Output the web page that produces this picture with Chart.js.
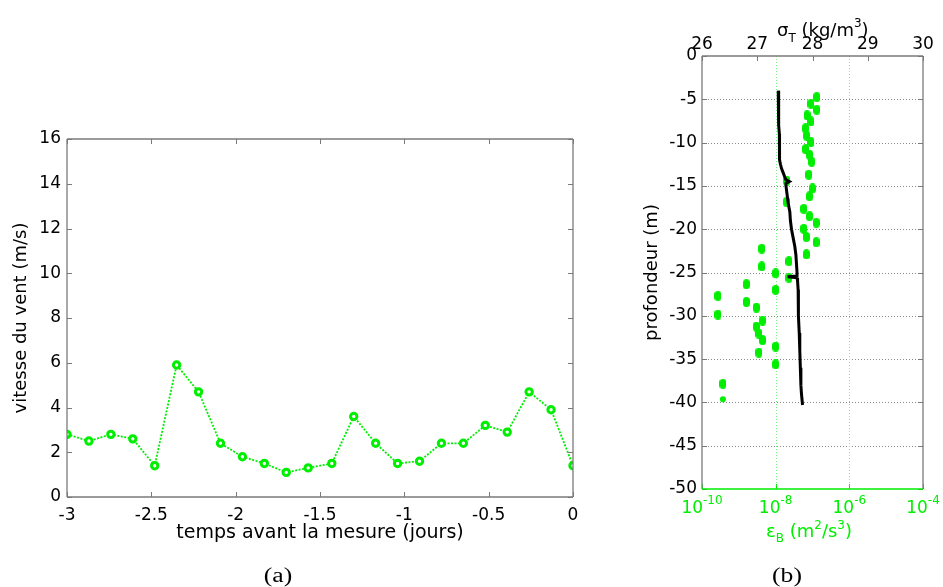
<!DOCTYPE html>
<html><head><meta charset="utf-8">
<script src="https://cdn.jsdelivr.net/npm/chart.js@4.4.0/dist/chart.umd.min.js"></script>
<style>
html,body{margin:0;padding:0;background:#fff;width:943px;height:587px;overflow:hidden;}
#ca{position:absolute;left:0;top:0;}
#cb{position:absolute;left:640px;top:0;}
.cap{position:absolute;width:60px;text-align:center;font-family:"Liberation Serif","Times New Roman",serif;font-size:20px;line-height:22px;color:#000;transform:scaleX(1.28);}
</style></head><body>
<canvas id="ca" width="640" height="587"></canvas>
<canvas id="cb" width="303" height="587"></canvas>
<div class="cap" style="left:248px;top:564px;">(a)</div>
<div class="cap" style="left:757px;top:564px;">(b)</div>
<script>
// ---------- data: panel (a) ----------
const windTime  = [-3, -2.87, -2.74, -2.61, -2.48, -2.35, -2.22, -2.09, -1.96, -1.83, -1.70, -1.57,
                   -1.43, -1.30, -1.17, -1.04, -0.91, -0.78, -0.65, -0.52, -0.39, -0.26, -0.13, 0];
const windSpeed = [2.8, 2.5, 2.8, 2.6, 1.4, 5.9, 4.7, 2.4, 1.8, 1.5, 1.1, 1.3,
                   1.5, 3.6, 2.4, 1.5, 1.6, 2.4, 2.4, 3.2, 2.9, 4.7, 3.9, 1.4];
const windXTicks = [-3, -2.5, -2, -1.5, -1, -0.5, 0];
const windYTicks = [0, 2, 4, 6, 8, 10, 12, 14, 16];

// ---------- data: panel (b) ----------
const sigmaDepth = [-4, -5, -6, -7, -8, -9, -10, -11, -12, -12.5, -13, -13.5, -14, -14.3, -14.5, -14.7, -15,
                    -16, -17, -18, -19, -20, -21, -22, -23, -24, -25, -25.4, -25.5, -25.6, -26, -27, -28,
                    -30, -32, -34, -36, -38, -39, -40.3];
const sigmaVals  = [27.38, 27.38, 27.39, 27.39, 27.39, 27.40, 27.40, 27.40, 27.41, 27.42, 27.44, 27.47, 27.50,
                    27.52, 27.58, 27.52, 27.52, 27.54, 27.56, 27.59, 27.60, 27.62, 27.65, 27.68, 27.70, 27.71,
                    27.72, 27.72, 27.55, 27.72, 27.73, 27.74, 27.74, 27.75, 27.76, 27.77, 27.78, 27.79, 27.80, 27.82];
const epsDepth = [-4.75, -5.5, -6.2, -6.85, -7.55, -8.35, -9.2, -9.95, -10.75, -11.4, -12.2, -13.7, -14.4,
                  -15.3, -16.2, -16.85, -17.65, -18.5, -19.25, -19.95, -20.9, -21.5, -22.25, -22.9, -23.7,
                  -24.3, -25.1, -25.6, -26.35, -27.0, -27.7, -28.4, -29.05, -29.85, -30.55, -31.25, -32.05,
                  -32.8, -33.55, -34.25, -35.6, -37.85];
const epsVals  = [1.3e-7, 9.1e-8, 1.3e-7, 7.1e-8, 9.1e-8, 6.5e-8, 6.9e-8, 9.1e-8, 6.5e-8, 8.3e-8, 9.5e-8, 7.9e-8, 2.0e-8,
                  1.0e-7, 8.3e-8, 1.95e-8, 5.8e-8, 8.3e-8, 1.26e-7, 5.8e-8, 6.8e-8, 1.26e-7, 4.2e-9, 6.8e-8, 2.3e-8,
                  4.2e-9, 1.0e-8, 2.3e-8, 1.6e-9, 1.0e-8, 2.7e-10, 1.6e-9, 3.0e-9, 2.7e-10, 4.4e-9, 3.0e-9, 3.5e-9,
                  4.4e-9, 1.0e-8, 3.5e-9, 1.0e-8, 3.7e-10];
const epsSmallDepth = [-39.65];
const epsSmallVals  = [3.7e-10];
const depthTicks = [-50, -45, -40, -35, -30, -25, -20, -15, -10, -5, 0];
const sigmaTicks = [26, 27, 28, 29, 30];
const epsTicks   = [1e-10, 1e-8, 1e-6, 1e-4];

// ---------- styles ----------
const FONT = '"DejaVu Sans", Verdana, sans-serif';
const GRAY = '#7a7a7a';
const GREEN = '#00ee00';
const GRID = '#8a8a8a';
const TICKFONT = { family: FONT, size: 17 };

function richText(ctx, parts, x, y, align, color) {
  ctx.save();
  ctx.fillStyle = color; ctx.textBaseline = 'alphabetic'; ctx.textAlign = 'left';
  let w = 0;
  for (const p of parts) { ctx.font = p.size + 'px ' + FONT; w += ctx.measureText(p.t).width; }
  let cx = align === 'center' ? x - w / 2 : x;
  for (const p of parts) {
    ctx.font = p.size + 'px ' + FONT;
    ctx.fillText(p.t, cx, y + (p.dy || 0));
    cx += ctx.measureText(p.t).width;
  }
  ctx.restore();
}
function inwardTicks(chart, id, values, sides, color, len) {
  const sc = chart.scales[id], a = chart.chartArea, ctx = chart.ctx;
  ctx.save(); ctx.strokeStyle = color; ctx.lineWidth = 1; ctx.beginPath();
  for (const v of values) {
    const p = Math.round(sc.getPixelForValue(v)) + 0.5;
    for (const s of sides) {
      if (s === 'bottom') { ctx.moveTo(p, a.bottom); ctx.lineTo(p, a.bottom - len); }
      if (s === 'top') { ctx.moveTo(p, a.top); ctx.lineTo(p, a.top + len); }
      if (s === 'left') { ctx.moveTo(a.left, p); ctx.lineTo(a.left + len, p); }
      if (s === 'right') { ctx.moveTo(a.right, p); ctx.lineTo(a.right - len, p); }
    }
  }
  ctx.stroke(); ctx.restore();
}
function edge(ctx, x1, y1, x2, y2, color) {
  ctx.save(); ctx.strokeStyle = color; ctx.lineWidth = 1.3;
  ctx.beginPath(); ctx.moveTo(x1, y1); ctx.lineTo(x2, y2); ctx.stroke(); ctx.restore();
}
const NOGRID = { display: false, drawTicks: false };

// ---------- panel (a) ----------
const frameA = {
  id: 'frameA',
  afterDraw(chart) {
    const a = chart.chartArea, ctx = chart.ctx;
    inwardTicks(chart, 'x', windXTicks, ['bottom', 'top'], GRAY, 5);
    inwardTicks(chart, 'y', windYTicks, ['left', 'right'], GRAY, 5);
    edge(ctx, a.left, a.top, a.right, a.top, GRAY);
    edge(ctx, a.right, a.top, a.right, a.bottom, GRAY);
    edge(ctx, a.left, a.bottom, a.right, a.bottom, GRAY);
    edge(ctx, a.left, a.top, a.left, a.bottom, GRAY);
  }
};
new Chart(document.getElementById('ca'), {
  type: 'line',
  data: { datasets: [{
    data: windTime.map((t, i) => ({ x: t, y: windSpeed[i] })),
    borderColor: GREEN, borderWidth: 1.8, borderDash: [2, 1.5],
    pointRadius: 3.2, pointBorderWidth: 3, pointBorderColor: GREEN, pointBackgroundColor: '#fff',
    tension: 0, fill: false
  }] },
  options: {
    responsive: false, animation: false, devicePixelRatio: 1,
    plugins: { legend: { display: false }, tooltip: { enabled: false } },
    layout: { padding: { top: 139, right: 67, left: 0, bottom: 0 } },
    scales: {
      x: {
        type: 'linear', min: -3, max: 0,
        afterBuildTicks: s => { s.ticks = windXTicks.map(v => ({ value: v })); },
        afterFit: s => { s.height = 90; },
        grid: NOGRID, border: { display: false },
        ticks: { color: '#000', font: TICKFONT, padding: 8, maxRotation: 0, autoSkip: false, callback: v => String(v) },
        title: { display: true, text: 'temps avant la mesure (jours)', color: '#000', font: { family: FONT, size: 19 }, padding: { top: 0, bottom: 43 } }
      },
      y: {
        type: 'linear', min: 0, max: 16,
        afterBuildTicks: s => { s.ticks = windYTicks.map(v => ({ value: v })); },
        afterFit: s => { s.width = 67; },
        grid: NOGRID, border: { display: false },
        ticks: { color: '#000', font: TICKFONT, padding: 6, autoSkip: false, callback: v => String(v) },
        title: { display: true, text: 'vitesse du vent (m/s)', color: '#000', font: { family: FONT, size: 18 }, padding: { top: 11, bottom: 0 } }
      }
    }
  },
  plugins: [frameA]
});

// ---------- panel (b) ----------
const pill = document.createElement('canvas');
pill.width = 7; pill.height = 10;
(function () {
  const c = pill.getContext('2d');
  c.fillStyle = GREEN; c.beginPath();
  c.moveTo(0, 3.5); c.arc(3.5, 3.5, 3.5, Math.PI, 0); c.lineTo(7, 6.5); c.arc(3.5, 6.5, 3.5, 0, Math.PI); c.closePath(); c.fill();
})();

const frameB = {
  id: 'frameB',
  beforeDatasetsDraw(chart) {
    const a = chart.chartArea, ctx = chart.ctx;
    ctx.save(); ctx.lineWidth = 1; ctx.setLineDash([1, 2]);
    ctx.strokeStyle = GRID; ctx.beginPath();
    for (const v of depthTicks.slice(1, -1)) {
      const p = Math.round(chart.scales.y.getPixelForValue(v)) + 0.5;
      ctx.moveTo(a.left, p); ctx.lineTo(a.right, p);
    }
    ctx.stroke();
    ctx.strokeStyle = '#7ef07e'; ctx.beginPath();
    for (const v of epsTicks.slice(1, -1)) {
      const p = Math.round(chart.scales.xBot.getPixelForValue(v)) + 0.5;
      ctx.moveTo(p, a.top); ctx.lineTo(p, a.bottom);
    }
    ctx.stroke(); ctx.restore();
  },
  afterDraw(chart) {
    const a = chart.chartArea, ctx = chart.ctx;
    inwardTicks(chart, 'y', depthTicks, ['left', 'right'], GRAY, 5);
    inwardTicks(chart, 'xTop', sigmaTicks, ['top'], GRAY, 5);
    inwardTicks(chart, 'xBot', epsTicks, ['bottom'], GREEN, 5);
    edge(ctx, a.left, a.top, a.right, a.top, GRAY);
    edge(ctx, a.right, a.top, a.right, a.bottom, GRAY);
    edge(ctx, a.left, a.top, a.left, a.bottom, GRAY);
    edge(ctx, a.left, a.bottom, a.right, a.bottom, GREEN);
    // bottom log tick labels (green, 10 with superscript exponent)
    const xb = chart.scales.xBot;
    for (const v of epsTicks) {
      const p = xb.getPixelForValue(v);
      const e = Math.round(Math.log10(v));
      richText(ctx, [{ t: '10', size: 17 }, { t: String(e), size: 12, dy: -9 }], p, 513, 'center', GREEN);
    }
    // bottom title
    richText(ctx, [{ t: '\u03B5', size: 18 }, { t: 'B', size: 12, dy: 5 }, { t: ' (m', size: 18 }, { t: '2', size: 12, dy: -8 },
                   { t: '/s', size: 18 }, { t: '3', size: 12, dy: -8 }, { t: ')', size: 18 }], 169, 537, 'center', GREEN);
    // top title
    richText(ctx, [{ t: '\u03C3', size: 18 }, { t: 'T', size: 12, dy: 6 }, { t: ' (kg/m', size: 18 }, { t: '3', size: 12, dy: -9 },
                   { t: ')', size: 18 }], 137, 36, 'left', '#000');
  }
};

new Chart(document.getElementById('cb'), {
  type: 'scatter',
  data: { datasets: [
    { type: 'line', data: sigmaVals.map((v, i) => ({ x: v, y: sigmaDepth[i] })), xAxisID: 'xTop', yAxisID: 'y',
      borderColor: '#000', borderWidth: 3, pointRadius: 0, tension: 0, fill: false, order: 0 },
    { type: 'scatter', data: epsVals.map((v, i) => ({ x: v, y: epsDepth[i] })), xAxisID: 'xBot', yAxisID: 'y',
      pointStyle: pill, pointRadius: 5, order: 1 },
    { type: 'scatter', data: epsSmallVals.map((v, i) => ({ x: v, y: epsSmallDepth[i] })), xAxisID: 'xBot', yAxisID: 'y',
      pointStyle: 'circle', pointRadius: 3, backgroundColor: GREEN, borderColor: GREEN, borderWidth: 0, order: 1 }
  ] },
  options: {
    responsive: false, animation: false, devicePixelRatio: 1,
    plugins: { legend: { display: false }, tooltip: { enabled: false } },
    layout: { padding: { top: 0, right: 20, left: 0, bottom: 0 } },
    scales: {
      xTop: {
        type: 'linear', position: 'top', min: 26, max: 30,
        afterBuildTicks: s => { s.ticks = sigmaTicks.map(v => ({ value: v })); },
        afterFit: s => { s.height = 56; },
        grid: NOGRID, border: { display: false },
        ticks: { color: '#000', font: TICKFONT, padding: 1, maxRotation: 0, autoSkip: false, callback: v => String(v) }
      },
      xBot: {
        type: 'logarithmic', position: 'bottom', min: 1e-10, max: 1e-4,
        afterBuildTicks: s => { s.ticks = epsTicks.map(v => ({ value: v })); },
        afterFit: s => { s.height = 98; },
        grid: NOGRID, border: { display: false },
        ticks: { display: false }
      },
      y: {
        type: 'linear', min: -50, max: 0,
        afterBuildTicks: s => { s.ticks = depthTicks.map(v => ({ value: v })); },
        afterFit: s => { s.width = 62; },
        grid: NOGRID, border: { display: false },
        ticks: { color: '#000', font: TICKFONT, padding: 5, autoSkip: false, callback: v => String(v) },
        title: { display: true, text: 'profondeur (m)', color: '#000', font: { family: FONT, size: 18 }, padding: { top: 2, bottom: 0 } }
      }
    }
  },
  plugins: [frameB]
});
</script>
</body></html>
